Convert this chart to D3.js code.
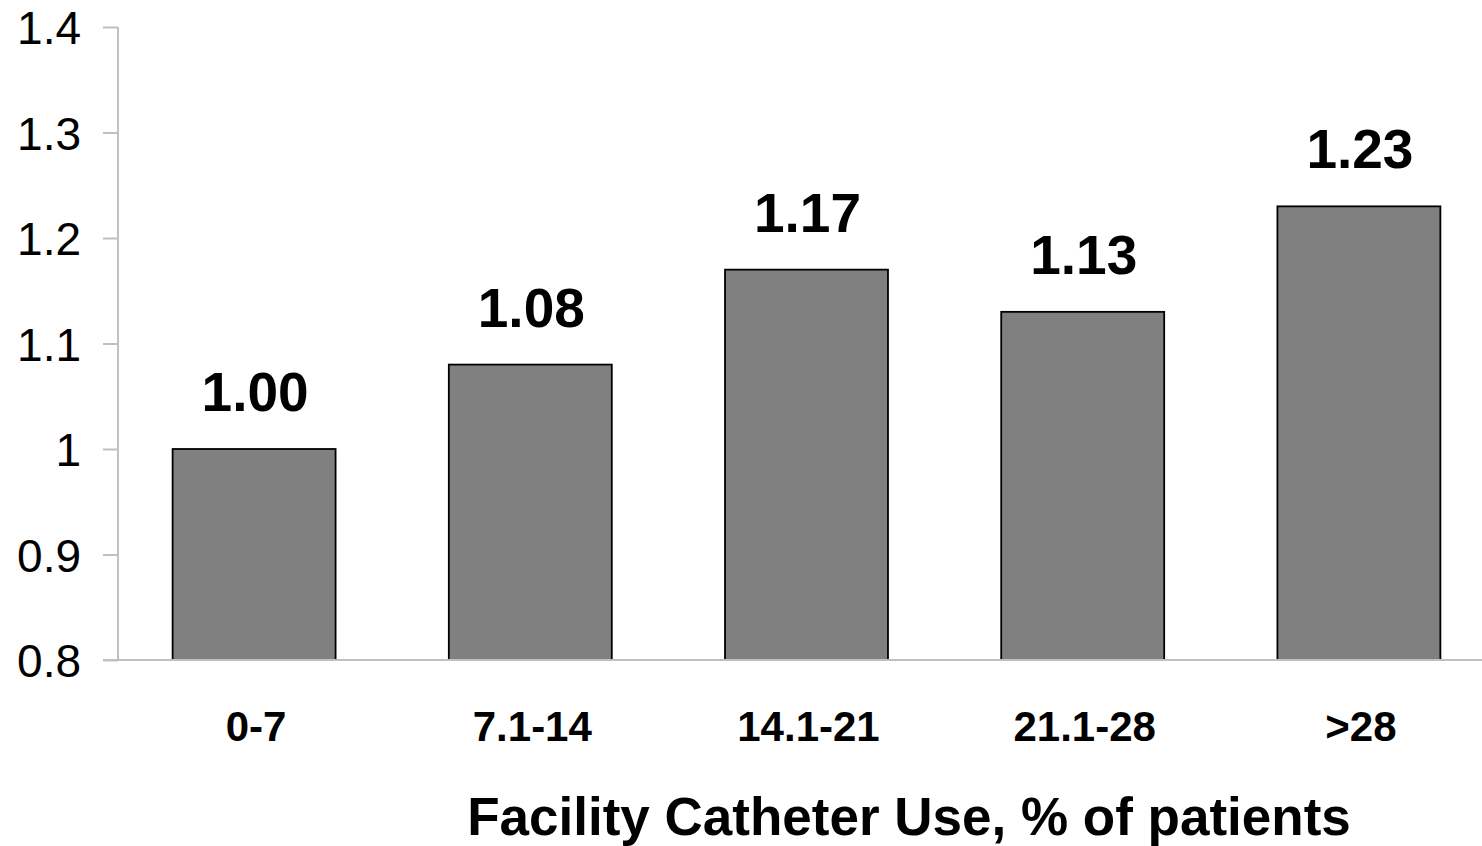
<!DOCTYPE html>
<html><head><meta charset="utf-8">
<script src="https://cdn.jsdelivr.net/npm/d3@7"></script>
<style>body{margin:0;background:#fff}svg{display:block}</style>
</head><body>
<svg id="c" width="1482" height="846"></svg>
<script>
const categories = ["0-7", "7.1-14", "14.1-21", "21.1-28", ">28"];
const values = [1.00, 1.08, 1.17, 1.13, 1.23];
const valueLabels = ["1.00", "1.08", "1.17", "1.13", "1.23"];
const yTicks = [0.8, 0.9, 1, 1.1, 1.2, 1.3, 1.4];
const xTitle = "Facility Catheter Use, % of patients";

const svg = d3.select("#c");
const font = "Liberation Sans, Arial, sans-serif";
const axisColor = "#c0c0c0";
const x0 = 118, yBase = 660, yTop = 27;

const y = d3.scaleLinear().domain([0.8, 1.4]).range([yBase, yTop]);
const x = d3.scaleBand().domain(categories).range([116, 1497])
  .paddingInner(0.41).paddingOuter(0.205);

// y axis
const yAxis = d3.axisLeft(y).tickValues(yTicks).tickSize(15).tickPadding(22)
  .tickFormat(d => d3.format("")(d));
const gy = svg.append("g").attr("transform", `translate(${x0},0)`).call(yAxis);
gy.select(".domain").remove();
gy.selectAll(".tick line").attr("stroke", axisColor).attr("stroke-width", 2);
gy.selectAll(".tick text").attr("font-family", font).attr("font-size", 46)
  .attr("fill", "#000").attr("dy", "0.36em");
svg.append("line").attr("x1", x0).attr("x2", x0).attr("y1", y(1.4)).attr("y2", yBase)
  .attr("stroke", axisColor).attr("stroke-width", 2);

// bars
svg.append("g").selectAll("rect").data(categories).join("rect")
  .attr("x", d => x(d)).attr("width", x.bandwidth())
  .attr("y", (d, i) => y(values[i])).attr("height", (d, i) => yBase - y(values[i]))
  .attr("fill", "#808080").attr("stroke", "#000").attr("stroke-width", 1.8);

// baseline
svg.append("line").attr("x1", x0 - 15).attr("x2", 1482).attr("y1", yBase).attr("y2", yBase)
  .attr("stroke", axisColor).attr("stroke-width", 2);

// value labels
svg.append("g").selectAll("text").data(categories).join("text")
  .attr("x", d => x(d) + x.bandwidth() / 2 + 1)
  .attr("y", (d, i) => y(values[i]) - 38)
  .attr("text-anchor", "middle").attr("font-family", font)
  .attr("font-weight", "bold").attr("font-size", 55)
  .text((d, i) => valueLabels[i]);

// category labels
svg.append("g").selectAll("text").data(categories).join("text")
  .attr("x", d => x(d) + x.bandwidth() / 2 + 2)
  .attr("y", 741)
  .attr("text-anchor", "middle").attr("font-family", font)
  .attr("font-weight", "bold").attr("font-size", 42)
  .text(d => d);

// x title
svg.append("text").attr("x", 909).attr("y", 835).attr("text-anchor", "middle")
  .attr("font-family", font).attr("font-weight", "bold").attr("font-size", 53)
  .text(xTitle);
</script>
</body></html>
